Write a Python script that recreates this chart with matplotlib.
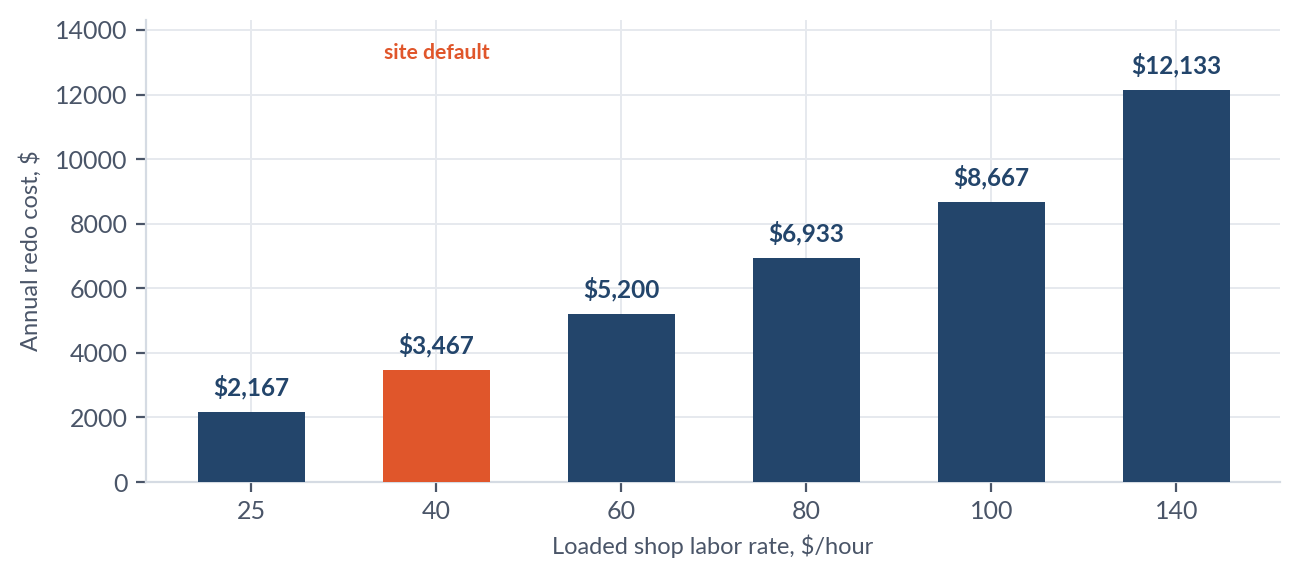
import matplotlib
matplotlib.use('Agg')
import matplotlib.pyplot as plt

# dados do gráfico
taxas = ['25', '40', '60', '80', '100', '140']
custos = [2167, 3467, 5200, 6933, 8667, 12133]
rotulos = ['$2,167', '$3,467', '$5,200', '$6,933', '$8,667', '$12,133']
destaque = '40'  # taxa padrão do site

azul = '#23456b'
laranja = '#e0562b'
cinza_texto = '#4a5568'
cinza_eixo = '#d5dbe3'
cinza_grade = '#e6e9ee'

plt.rcParams['font.family'] = ['Lato', 'DejaVu Sans']

fig = plt.figure(figsize=(6.5, 2.895), dpi=200)
ax = fig.add_axes([0.1123, 0.1675, 0.8723, 0.798])

cores = [laranja if t == destaque else azul for t in taxas]
x = list(range(len(taxas)))
barras = ax.bar(x, custos, width=0.58, color=cores, zorder=3)

for xi, c, r in zip(x, custos, rotulos):
    ax.annotate(r, (xi, c), xytext=(0, 4.5), textcoords='offset points',
                ha='center', va='bottom', fontsize=8.8, fontweight='bold',
                color=azul, zorder=4)

ax.text(taxas.index(destaque), 13300, 'site default', ha='center', va='center',
        fontsize=7.6, fontweight='bold', color=laranja)

ax.set_xticks(x)
ax.set_xticklabels(taxas)
ax.set_xlim(-0.57, 5.56)
ax.set_ylim(0, 14310)
ax.set_yticks(range(0, 14001, 2000))

ax.grid(True, color=cinza_grade, linewidth=0.7, zorder=0)
ax.set_axisbelow(True)
for lado in ['top', 'right']:
    ax.spines[lado].set_visible(False)
for lado in ['left', 'bottom']:
    ax.spines[lado].set_color(cinza_eixo)
    ax.spines[lado].set_linewidth(0.8)

ax.tick_params(axis='both', colors=cinza_texto, labelsize=9, length=3.5,
               width=0.8, pad=3)
ax.set_xlabel('Loaded shop labor rate, $/hour', fontsize=8.5, color=cinza_texto, labelpad=4)
ax.set_ylabel('Annual redo cost, $', fontsize=8.5, color=cinza_texto, labelpad=5)

fig.savefig('out.png', dpi=200)
